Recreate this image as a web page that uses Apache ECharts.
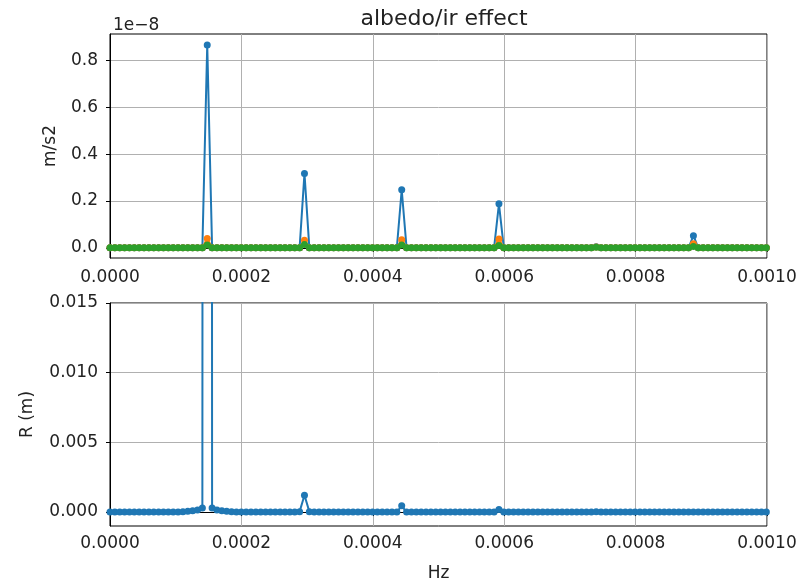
<!DOCTYPE html>
<html>
<head>
<meta charset="utf-8">
<script src="https://cdn.jsdelivr.net/npm/echarts@6/dist/echarts.min.js"></script>
<style>
  body { margin: 0; background: #fff; }
  #chart { width: 801px; height: 583px; }
</style>
</head>
<body>
<div id="chart"></div>
<script>
// frequency bin width (Hz), peaks sit on every 20th bin
const freqStep = 7.4e-6
const binCount = 136

const xTicks = [0, 0.0002, 0.0004, 0.0006, 0.0008, 0.001]
const topTicks = [0, 0.2, 0.4, 0.6, 0.8]
const bottomTicks = [0, 0.005, 0.010, 0.015]

// top panel, units of 1e-8 m/s2
const accelTotal = [
  0, 0, 0, 0, 0, 0, 0, 0, 0, 0, 0, 0, 0, 0, 0, 0, 0, 0, 0, 0,
  0.866, 0, 0, 0, 0, 0, 0, 0, 0, 0, 0, 0, 0, 0, 0, 0, 0, 0, 0, 0,
  0.318, 0, 0, 0, 0, 0, 0, 0, 0, 0, 0, 0, 0, 0, 0, 0, 0, 0, 0, 0,
  0.248, 0, 0, 0, 0, 0, 0, 0, 0, 0, 0, 0, 0, 0, 0, 0, 0, 0, 0, 0,
  0.188, 0, 0, 0, 0, 0, 0, 0, 0, 0, 0, 0, 0, 0, 0, 0, 0, 0, 0, 0,
  0.005, 0, 0, 0, 0, 0, 0, 0, 0, 0, 0, 0, 0, 0, 0, 0, 0, 0, 0, 0,
  0.052, 0, 0, 0, 0, 0, 0, 0, 0, 0, 0, 0, 0, 0, 0, 0
]
const accelAlbedo = [
  0, 0, 0, 0, 0, 0, 0, 0, 0, 0, 0, 0, 0, 0, 0, 0, 0, 0, 0, 0,
  0.040, 0, 0, 0, 0, 0, 0, 0, 0, 0, 0, 0, 0, 0, 0, 0, 0, 0, 0, 0,
  0.032, 0, 0, 0, 0, 0, 0, 0, 0, 0, 0, 0, 0, 0, 0, 0, 0, 0, 0, 0,
  0.035, 0, 0, 0, 0, 0, 0, 0, 0, 0, 0, 0, 0, 0, 0, 0, 0, 0, 0, 0,
  0.038, 0, 0, 0, 0, 0, 0, 0, 0, 0, 0, 0, 0, 0, 0, 0, 0, 0, 0, 0,
  0.003, 0, 0, 0, 0, 0, 0, 0, 0, 0, 0, 0, 0, 0, 0, 0, 0, 0, 0, 0,
  0.017, 0, 0, 0, 0, 0, 0, 0, 0, 0, 0, 0, 0, 0, 0, 0
]
const accelIr = [
  0, 0, 0, 0, 0, 0, 0, 0, 0, 0, 0, 0, 0, 0, 0, 0, 0, 0, 0, 0,
  0.012, 0, 0, 0, 0, 0, 0, 0, 0, 0, 0, 0, 0, 0, 0, 0, 0, 0, 0, 0,
  0.014, 0, 0, 0, 0, 0, 0, 0, 0, 0, 0, 0, 0, 0, 0, 0, 0, 0, 0, 0,
  0.012, 0, 0, 0, 0, 0, 0, 0, 0, 0, 0, 0, 0, 0, 0, 0, 0, 0, 0, 0,
  0.010, 0, 0, 0, 0, 0, 0, 0, 0, 0, 0, 0, 0, 0, 0, 0, 0, 0, 0, 0,
  0.002, 0, 0, 0, 0, 0, 0, 0, 0, 0, 0, 0, 0, 0, 0, 0, 0, 0, 0, 0,
  0.006, 0, 0, 0, 0, 0, 0, 0, 0, 0, 0, 0, 0, 0, 0, 0
]

// bottom panel, radial displacement in m (main peak goes far off scale)
const radial = [
  0, 0, 0, 0, 0, 0, 0, 0, 0, 0, 0, 0, 0, 0, 0, 0.00003, 0.00005, 0.0001, 0.00015, 0.0003,
  0.9, 0.0003, 0.00015, 0.0001, 0.00005, 0.00003, 0, 0, 0, 0, 0, 0, 0, 0, 0, 0, 0, 0, 0, 0.00003,
  0.0012, 0.00003, 0, 0, 0, 0, 0, 0, 0, 0, 0, 0, 0, 0, 0, 0, 0, 0, 0, 0,
  0.00045, 0, 0, 0, 0, 0, 0, 0, 0, 0, 0, 0, 0, 0, 0, 0, 0, 0, 0, 0,
  0.00018, 0, 0, 0, 0, 0, 0, 0, 0, 0, 0, 0, 0, 0, 0, 0, 0, 0, 0, 0,
  0.00002, 0, 0, 0, 0, 0, 0, 0, 0, 0, 0, 0, 0, 0, 0, 0, 0, 0, 0, 0,
  0.00001, 0, 0, 0, 0, 0, 0, 0, 0, 0, 0, 0, 0, 0, 0, 0
]

let freq = []
for (let i = 0; i < binCount; i++) {
  freq.push(i * freqStep)
}
function pairs(values) {
  return values.map((v, i) => [freq[i], v])
}

const font = 'DejaVu Sans'
const textColor = '#222'

function xAxisFor(gridIndex, withName, labelGap) {
  return {
    type: 'value',
    gridIndex: gridIndex,
    min: 0,
    max: 0.001,
    interval: 0.0002,
    name: withName ? 'Hz' : '',
    nameLocation: 'middle',
    nameGap: 39,
    nameTextStyle: { fontFamily: font, fontSize: 17, color: textColor },
    axisLine: { lineStyle: { color: '#000', width: 1 } },
    axisTick: { inside: false, length: 4, customValues: xTicks, lineStyle: { color: '#000' } },
    axisLabel: {
      margin: labelGap,
      fontFamily: font,
      fontSize: 17,
      color: textColor,
      customValues: xTicks,
      formatter: v => v.toFixed(4)
    },
    splitLine: { show: true, lineStyle: { color: '#b0b0b0', width: 1 } }
  }
}

function yAxisFor(gridIndex, min, max, ticks, digits, name, gap) {
  return {
    type: 'value',
    gridIndex: gridIndex,
    min: min,
    max: max,
    name: name,
    nameLocation: 'middle',
    nameGap: gap,
    nameTextStyle: { fontFamily: font, fontSize: 17, color: textColor },
    axisLine: { show: true, lineStyle: { color: '#000', width: 1 } },
    axisTick: { show: true, inside: false, length: 4, customValues: ticks, lineStyle: { color: '#000' } },
    axisLabel: {
      margin: 12,
      fontFamily: font,
      fontSize: 17,
      color: textColor,
      customValues: ticks,
      formatter: v => v.toFixed(digits)
    },
    splitLine: { show: true, lineStyle: { color: '#b0b0b0', width: 1 } }
  }
}

function lineSeries(name, color, xi, values) {
  return {
    name: name,
    type: 'line',
    xAxisIndex: xi,
    yAxisIndex: xi,
    data: pairs(values),
    symbol: 'circle',
    symbolSize: 7,
    showAllSymbol: true,
    animation: false,
    itemStyle: { color: color },
    lineStyle: { color: color, width: 2 }
  }
}

const chart = echarts.init(document.getElementById('chart'), null, { width: 801, height: 583 })

const option = {
  backgroundColor: '#fff',
  animation: false,
  title: [
    {
      text: 'albedo/ir effect',
      left: 439,
      textAlign: 'center',
      top: 3,
      textStyle: { fontFamily: font, fontSize: 22, fontWeight: 'normal', color: textColor }
    },
    {
      text: '1e\u22128',
      left: 108,
      top: 12,
      textStyle: { fontFamily: font, fontSize: 17, fontWeight: 'normal', color: textColor }
    }
  ],
  grid: [
    { left: 110, top: 34, width: 657, height: 224, show: true, borderColor: '#000', borderWidth: 1 },
    { left: 110, top: 303, width: 657, height: 224, show: true, borderColor: '#000', borderWidth: 1 }
  ],
  xAxis: [xAxisFor(0, false, 11), xAxisFor(1, true, 9)],
  yAxis: [
    yAxisFor(0, -0.0435, 0.9135, topTicks, 1, 'm/s2', 51),
    yAxisFor(1, -0.001, 0.015, bottomTicks, 3, 'R (m)', 74)
  ],
  series: [
    lineSeries('total', '#1f77b4', 0, accelTotal),
    lineSeries('albedo', '#ff7f0e', 0, accelAlbedo),
    lineSeries('ir', '#2ca02c', 0, accelIr),
    lineSeries('R', '#1f77b4', 1, radial)
  ]
}

chart.setOption(option)
</script>
</body>
</html>
